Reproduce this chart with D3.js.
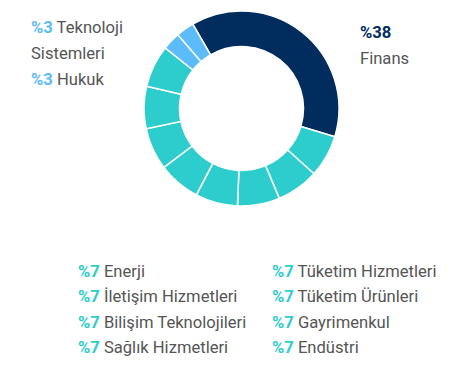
<!DOCTYPE html>
<html>
<head>
    <meta charset="UTF-8" />
    <title>sektor dagilimi</title>
    <style>
        body {
            margin: 0;
            padding: 0;
            background: white;
            font-family: Roboto, 'Open Sans', sans-serif;
        }
        text {
            fill: #555;
            font-size: 16.6px;
        }
        .pct {
            font-weight: 700;
        }
    </style>
</head>
<body>
    <svg id="chart" width="471" height="368"></svg>

    <script src="https://cdnjs.cloudflare.com/ajax/libs/d3/7.8.5/d3.min.js"></script>
    <script>
        // sectors, clockwise from the top-left start of Finans
        const sectors = ['Finans', 'Enerji', 'İletişim Hizmetleri', 'Bilişim Teknolojileri', 'Sağlık Hizmetleri',
            'Tüketim Hizmetleri', 'Tüketim Ürünleri', 'Gayrimenkul', 'Endüstri', 'Teknoloji Sistemleri', 'Hukuk']
        const shares = [38, 7, 7, 7, 7, 7, 7, 7, 7, 3, 3]
        const groups = ['main', 'mid', 'mid', 'mid', 'mid', 'mid', 'mid', 'mid', 'mid', 'small', 'small']

        const color = d3.scaleOrdinal()
            .domain(['main', 'mid', 'small'])
            .range(['#002c5e', '#2dcdcd', '#5cbcfa'])

        const svg = d3.select('#chart')

        const pie = d3.pie()
            .sort(null)
            .value(d => d.v)
            .startAngle(-30 * Math.PI / 180)
            .endAngle(330 * Math.PI / 180)

        const arc = d3.arc().innerRadius(62).outerRadius(97.5)

        const data = sectors.map((s, i) => ({ name: s, v: shares[i], g: groups[i] }))

        svg.append('g')
            .attr('transform', 'translate(241.5,108.5)')
            .selectAll('path')
            .data(pie(data))
            .join('path')
            .attr('d', arc)
            .attr('fill', d => color(d.data.g))
            .attr('stroke', 'white')
            .attr('stroke-width', 1.5)

        // labels around the donut
        function label(x, y, pct, name, c) {
            const t = svg.append('text').attr('x', x).attr('y', y)
            t.append('tspan').attr('class', 'pct').style('fill', c).text('%' + pct)
            if (name) t.append('tspan').text(' ' + name)
            return t
        }

        label(31, 33, shares[9], 'Teknoloji', color('small'))
        svg.append('text').attr('x', 31).attr('y', 59).text('Sistemleri')
        label(31, 85, shares[10], 'Hukuk', color('small'))

        label(360, 38, shares[0], null, color('main'))
        svg.append('text').attr('x', 360).attr('y', 64).text(sectors[0])

        // bottom legend, two columns of four
        const legendRows = d3.scaleLinear().domain([0, 3]).range([277, 353])
        sectors.slice(1, 9).forEach((s, i) => {
            const col = Math.floor(i / 4)
            label(col === 0 ? 78 : 272, legendRows(i % 4), shares[i + 1], s, color('mid'))
        })
    </script>
</body>
</html>
